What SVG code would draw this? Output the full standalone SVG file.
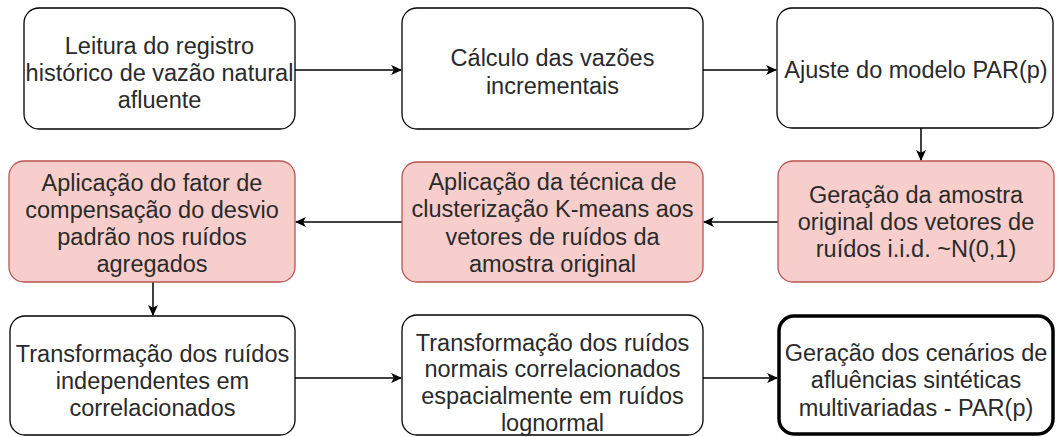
<svg xmlns="http://www.w3.org/2000/svg" width="1057" height="437" viewBox="0 0 1057 437">
<style>
.box{fill:#ffffff;stroke:#000000;stroke-width:1.3}
.pink{fill:#f8cecc;stroke:#b85450;stroke-width:1.3}
.bold{fill:#ffffff;stroke:#000000;stroke-width:3.5}
text{font-family:"Liberation Sans",Arial,sans-serif;font-size:23.5px;fill:#2a2a2a;text-anchor:middle;dominant-baseline:central}
.conn{stroke:#000000;stroke-width:1.5;fill:none;marker-end:url(#arr)}
</style>
<defs>
<marker id="arr" viewBox="0 0 10 10" refX="9" refY="5" markerWidth="11" markerHeight="11" markerUnits="userSpaceOnUse" orient="auto">
<path d="M0,0.5 L10,5 L0,9.5 L2.5,5 Z" fill="#000"/>
</marker>
</defs>
<rect width="1057" height="437" fill="#ffffff"/>
<g id="connectors">
<line class="conn" x1="295" y1="70" x2="401" y2="70"/>
<line class="conn" x1="703" y1="70" x2="776" y2="70"/>
<line class="conn" x1="921" y1="128" x2="921" y2="160"/>
<line class="conn" x1="778" y1="222" x2="704" y2="222"/>
<line class="conn" x1="402" y1="222" x2="296" y2="222"/>
<line class="conn" x1="153" y1="282" x2="153" y2="315"/>
<line class="conn" x1="295" y1="378" x2="401" y2="378"/>
<line class="conn" x1="703" y1="378" x2="777" y2="378"/>
</g>
<g id="n1">
<rect class="box" x="24" y="8" width="271" height="121" rx="15"/>
<text x="159.5" y="46">Leitura do registro</text>
<text x="159.5" y="73">histórico de vazão natural</text>
<text x="159.5" y="100">afluente</text>
</g>
<g id="n2">
<rect class="box" x="402" y="8" width="301" height="121" rx="15"/>
<text x="552.5" y="58">Cálculo das vazões</text>
<text x="552.5" y="86">incrementais</text>
</g>
<g id="n3">
<rect class="box" x="777" y="8" width="276" height="120" rx="15"/>
<text x="916" y="70">Ajuste do modelo PAR(p)</text>
</g>
<g id="n4">
<rect class="pink" x="9" y="161" width="286" height="121" rx="15"/>
<text x="152" y="183">Aplicação do fator de</text>
<text x="152" y="210">compensação do desvio</text>
<text x="152" y="237">padrão nos ruídos</text>
<text x="152" y="264">agregados</text>
</g>
<g id="n5">
<rect class="pink" x="402" y="162" width="301" height="120" rx="15"/>
<text x="552.5" y="182">Aplicação da técnica de</text>
<text x="552.5" y="209">clusterização K-means aos</text>
<text x="552.5" y="237">vetores de ruídos da</text>
<text x="552.5" y="264">amostra original</text>
</g>
<g id="n6">
<rect class="pink" x="778" y="161" width="276" height="121" rx="15"/>
<text x="916" y="195">Geração da amostra</text>
<text x="916" y="222">original dos vetores de</text>
<text x="916" y="249">ruídos i.i.d. ~N(0,1)</text>
</g>
<g id="n7">
<rect class="box" x="10" y="316" width="285" height="119" rx="15"/>
<text x="152.5" y="354">Transformação dos ruídos</text>
<text x="152.5" y="381">independentes em</text>
<text x="152.5" y="408">correlacionados</text>
</g>
<g id="n8">
<rect class="box" x="402" y="315" width="301" height="120" rx="15"/>
<text x="552.5" y="343">Transformação dos ruídos</text>
<text x="552.5" y="369">normais correlacionados</text>
<text x="552.5" y="396">espacialmente em ruídos</text>
<text x="552.5" y="423">lognormal</text>
</g>
<g id="n9">
<rect class="bold" x="779" y="316" width="274" height="118" rx="15"/>
<text x="916" y="353">Geração dos cenários de</text>
<text x="916" y="380">afluências sintéticas</text>
<text x="916" y="408">multivariadas - PAR(p)</text>
</g>
</svg>
